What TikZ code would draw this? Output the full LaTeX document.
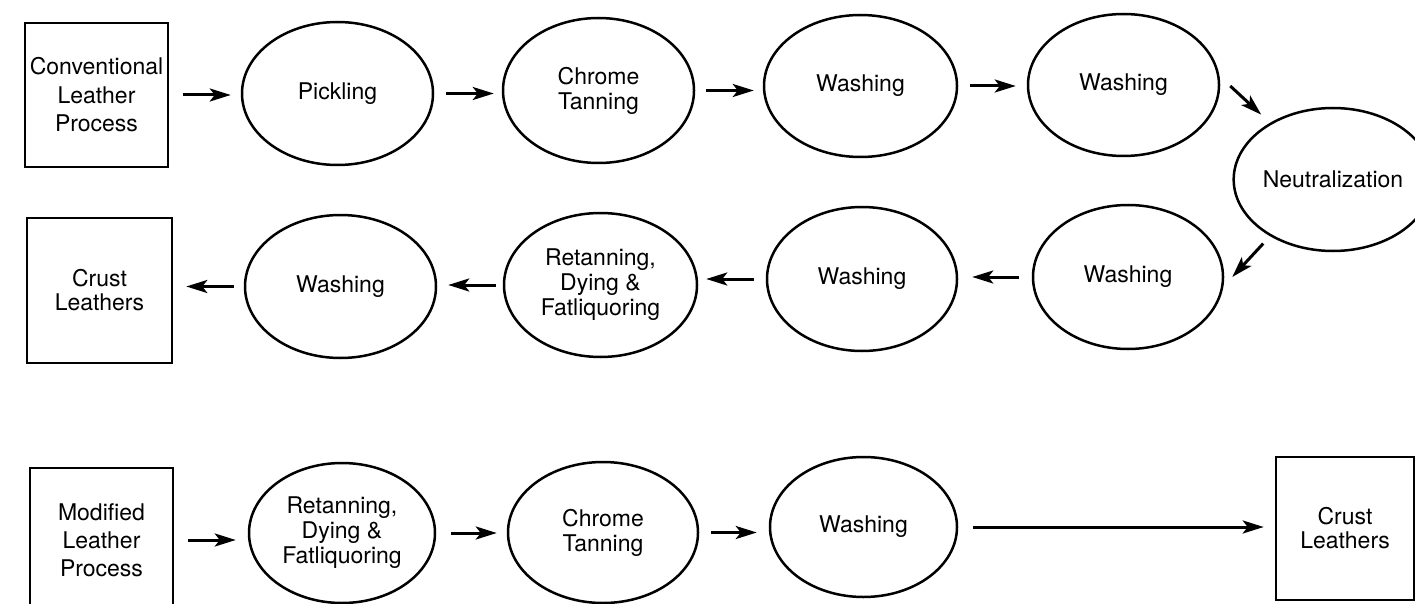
\documentclass[tikz,border=0pt]{standalone}
\usepackage{fontspec}
\setmainfont{TeX Gyre Heros}
\usetikzlibrary{arrows.meta,shapes.geometric}
\begin{document}
\begin{tikzpicture}[x=1pt,y=-1pt,
  proc/.style={draw,ellipse,line width=2.5pt,inner sep=0pt,align=center,font=\fontsize{23}{25}\selectfont},
  bx/.style={draw,rectangle,line width=2.6pt,inner sep=0pt,align=center},
  arr/.style={line width=3pt,-{Stealth[length=21pt,width=13pt,inset=5pt]}}]
\useasboundingbox (0,0) rectangle (1415,604);
\clip (0,0) rectangle (1415,604);
% row 1
\node[bx,minimum width=143pt,minimum height=144pt,font=\fontsize{23}{28.5}\selectfont] (conv) at (96.5,95) {Conventional\\Leather\\Process};
\node[proc,minimum width=191pt,minimum height=143pt] (pick) at (337.5,93.5) {Pickling};
\node[proc,minimum width=191pt,minimum height=145pt] (chr1) at (598.5,90.5) {Chrome\\Tanning};
\node[proc,minimum width=193pt,minimum height=142pt] (w1) at (860.5,86) {Washing};
\node[proc,minimum width=191pt,minimum height=142pt] (w2) at (1123.5,85) {Washing};
\node[proc,minimum width=192pt,minimum height=143pt] (neut) at (1333,179.5) {Neutralization};
% row 2
\node[proc,minimum width=190pt,minimum height=144pt] (w3) at (1128,277) {Washing};
\node[proc,minimum width=190pt,minimum height=144pt] (w4) at (862,279) {Washing};
\node[proc,minimum width=193pt,minimum height=144pt] (ret1) at (600.5,285) {Retanning,\\Dying \&\\Fatliquoring};
\node[proc,minimum width=191pt,minimum height=143pt] (w5) at (340.5,286.5) {Washing};
\node[bx,minimum width=145pt,minimum height=145pt,font=\fontsize{23}{24}\selectfont] (crust1) at (99.5,290.5) {Crust\\Leathers};
% row 3
\node[bx,minimum width=143pt,minimum height=144pt,font=\fontsize{23}{28}\selectfont] (mod) at (101.5,540) {Modified\\Leather\\Process};
\node[proc,minimum width=186pt,minimum height=140pt] (ret3) at (342,533) {Retanning,\\Dying \&\\Fatliquoring};
\node[proc,minimum width=190pt,minimum height=141pt] (chr3) at (603,532.5) {Chrome\\Tanning};
\node[proc,minimum width=187pt,minimum height=140pt] (w6) at (863.5,527) {Washing};
\node[bx,minimum width=138pt,minimum height=143pt,font=\fontsize{23}{24}\selectfont] (crust2) at (1345,528.5) {Crust\\Leathers};
% connectors row 1
\draw[arr,shorten <=14pt,shorten >=10pt] (conv.east) -- (conv.east -| pick.west);
\draw[arr,shorten <=12pt,shorten >=8pt] (pick.east) -- (pick.east -| chr1.west);
\draw[arr,shorten <=11pt,shorten >=9pt] (chr1.east) -- (chr1.east -| w1.west);
\draw[arr,shorten <=12pt,shorten >=11pt] (w1.east) -- (w1.east -| w2.west);
\draw[arr,shorten >=12pt] ([shift={(10,1)}]w2.east) -- (neut.138);
\draw[arr,shorten <=10pt] (neut.222) -- ([shift={(8,0)}]w3.east);
% row 2
\draw[arr,shorten <=13pt,shorten >=14pt] (w3.west) -- (w3.west -| w4.east);
\draw[arr,shorten <=12pt,shorten >=8pt] (w4.west) -- (w4.west -| ret1.east);
\draw[arr,shorten <=7pt,shorten >=11pt] (ret1.west) -- (ret1.west -| w5.east);
\draw[arr,shorten <=10pt,shorten >=13pt] (w5.west) -- (w5.west -| crust1.east);
% row 3
\draw[arr,shorten <=14pt,shorten >=12pt] (mod.east) -- (mod.east -| ret3.west);
\draw[arr,shorten <=15pt,shorten >=10pt] (ret3.east) -- (ret3.east -| chr3.west);
\draw[arr,shorten <=12pt,shorten >=12pt] (chr3.east) -- (chr3.east -| w6.west);
\draw[arr,shorten <=15pt,shorten >=11pt] (w6.east) -- (w6.east -| crust2.west);
\end{tikzpicture}
\end{document}
